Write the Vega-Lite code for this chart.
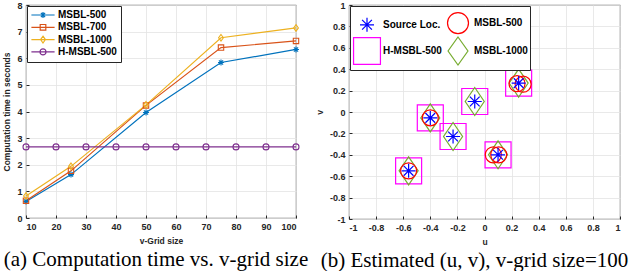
{
  "$schema": "https://vega.github.io/schema/vega-lite/v6.json",
  "background": "white",
  "padding": {"left": 2, "top": 0, "right": 0, "bottom": 0},
  "bounds": "flush",
  "spacing": 53,
  "resolve": {"scale": {"color": "independent", "shape": "independent"}, "legend": {"color": "independent", "shape": "independent"}},
  "config": {
    "font": "Liberation Sans",
    "view": {"stroke": "#262626", "strokeWidth": 0.8},
    "axis": {
      "labelFont": "Liberation Sans", "labelFontSize": 9, "labelFontWeight": "bold", "labelColor": "#262626",
      "titleFont": "Liberation Sans", "titleFontSize": 8.5, "titleFontWeight": "bold", "titleColor": "#262626",
      "gridColor": "#e3e3e3", "gridWidth": 0.8, "domain": false,
      "tickColor": "#262626", "tickSize": -3, "labelPadding": 7, "titlePadding": 5
    },
    "title": {"font": "Liberation Serif", "fontWeight": "normal", "color": "black", "orient": "bottom", "offset": 4, "fontSize": 21}
  },
  "hconcat": [
    {
      "width": 270, "height": 213,
      "title": {"text": "(a) Computation time vs. v-grid size", "dx": -5},
      "data": {"values": [
        {"n": 10, "series": "MSBL-500", "t": 0.62},
        {"n": 25, "series": "MSBL-500", "t": 1.63},
        {"n": 50, "series": "MSBL-500", "t": 3.96},
        {"n": 75, "series": "MSBL-500", "t": 5.84},
        {"n": 100, "series": "MSBL-500", "t": 6.33},
        {"n": 10, "series": "MSBL-700", "t": 0.65},
        {"n": 25, "series": "MSBL-700", "t": 1.77},
        {"n": 50, "series": "MSBL-700", "t": 4.23},
        {"n": 75, "series": "MSBL-700", "t": 6.40},
        {"n": 100, "series": "MSBL-700", "t": 6.65},
        {"n": 10, "series": "MSBL-1000", "t": 0.83},
        {"n": 25, "series": "MSBL-1000", "t": 1.94},
        {"n": 50, "series": "MSBL-1000", "t": 4.25},
        {"n": 75, "series": "MSBL-1000", "t": 6.77},
        {"n": 100, "series": "MSBL-1000", "t": 7.14},
        {"n": 10, "series": "H-MSBL-500", "t": 2.67},
        {"n": 20, "series": "H-MSBL-500", "t": 2.67},
        {"n": 30, "series": "H-MSBL-500", "t": 2.67},
        {"n": 40, "series": "H-MSBL-500", "t": 2.67},
        {"n": 50, "series": "H-MSBL-500", "t": 2.67},
        {"n": 60, "series": "H-MSBL-500", "t": 2.67},
        {"n": 70, "series": "H-MSBL-500", "t": 2.67},
        {"n": 80, "series": "H-MSBL-500", "t": 2.67},
        {"n": 90, "series": "H-MSBL-500", "t": 2.67},
        {"n": 100, "series": "H-MSBL-500", "t": 2.67}
      ]},
      "encoding": {
        "x": {"field": "n", "type": "quantitative", "scale": {"domain": [10, 100], "nice": false}, "axis": {"title": "v-Grid size", "values": [10,20,30,40,50,60,70,80,90,100]}},
        "y": {"field": "t", "type": "quantitative", "scale": {"domain": [0, 8], "nice": false}, "axis": {"title": "Computation time in seconds", "values": [0,1,2,3,4,5,6,7,8]}},
        "color": {"field": "series", "type": "nominal",
          "scale": {"domain": ["MSBL-500", "MSBL-700", "MSBL-1000", "H-MSBL-500"], "range": ["#0072BD", "#D95319", "#EDB120", "#7E2F8E"]},
          "legend": {
            "title": null, "orient": "top-left", "offset": 1, "fillColor": "white", "strokeColor": "#262626",
            "padding": 4, "labelFont": "Liberation Sans", "labelFontWeight": "bold", "labelFontSize": 10, "labelColor": "black",
            "rowPadding": 0.3, "symbolSize": 64, "symbolStrokeWidth": 1.2, "symbolOffset": 7, "labelOffset": 10
          }
        }
      },
      "layer": [
        {"mark": {"type": "line", "strokeWidth": 1.2}},
        {"transform": [{"filter": "datum.series === 'MSBL-500'"}],
         "mark": {"type": "point", "filled": false, "size": 36, "strokeWidth": 1.1, "opacity": 1, "shape": "M0,-1V1M-1,0H1M-0.7,-0.7L0.7,0.7M-0.7,0.7L0.7,-0.7"}},
        {"transform": [{"filter": "datum.series === 'MSBL-700'"}],
         "mark": {"type": "point", "filled": false, "size": 36, "strokeWidth": 1.1, "opacity": 1, "shape": "M-0.9,-0.9H0.9V0.9H-0.9Z"}},
        {"transform": [{"filter": "datum.series === 'MSBL-1000'"}],
         "mark": {"type": "point", "filled": false, "size": 36, "strokeWidth": 1.1, "opacity": 1, "shape": "M0,-1.1L0.8,0L0,1.1L-0.8,0Z"}},
        {"transform": [{"filter": "datum.series === 'H-MSBL-500'"}],
         "mark": {"type": "point", "filled": false, "size": 36, "strokeWidth": 1.1, "opacity": 1, "shape": "circle"}},
        {"transform": [{"filter": "false"}],
         "mark": {"type": "point", "filled": false, "size": 64, "strokeWidth": 1.2, "opacity": 1},
         "encoding": {"shape": {"field": "series", "type": "nominal",
           "scale": {"domain": ["MSBL-500", "MSBL-700", "MSBL-1000", "H-MSBL-500"],
             "range": ["M-2.9,0H2.9M0,-0.75V0.75M-0.75,0H0.75M-0.53,-0.53L0.53,0.53M-0.53,0.53L0.53,-0.53", "M-2.9,0H2.9M-0.7,-0.7H0.7V0.7H-0.7Z", "M-2.9,0H2.9M0,-0.85L0.6,0L0,0.85L-0.6,0Z", "M-2.9,0H2.9M0.75,0A0.75,0.75,0,1,1,-0.75,0A0.75,0.75,0,1,1,0.75,0Z"]},
           "legend": {
            "title": null, "orient": "top-left", "offset": 1, "fillColor": "white", "strokeColor": "#262626",
            "padding": 4, "labelFont": "Liberation Sans", "labelFontWeight": "bold", "labelFontSize": 10, "labelColor": "black",
            "rowPadding": 0.3, "symbolSize": 64, "symbolStrokeWidth": 1.2, "symbolOffset": 7, "labelOffset": 10
           }}}}
      ]
    },
    {
      "width": 271, "height": 214,
      "title": {"text": "(b) Estimated (u, v), v-grid size=100", "dx": -10},
      "data": {"values": [
        {"u": 0.252, "v": 0.27, "series": "Source Loc."},
        {"u": 0.10, "v": -0.40, "series": "Source Loc."},
        {"u": -0.40, "v": -0.055, "series": "Source Loc."},
        {"u": -0.232, "v": -0.229, "series": "Source Loc."},
        {"u": -0.56, "v": -0.55, "series": "Source Loc."},
        {"u": -0.072, "v": 0.098, "series": "Source Loc."},
        {"u": 0.24, "v": 0.265, "series": "MSBL-500"},
        {"u": 0.285, "v": 0.26, "series": "MSBL-500"},
        {"u": 0.065, "v": -0.40, "series": "MSBL-500"},
        {"u": 0.105, "v": -0.40, "series": "MSBL-500"},
        {"u": -0.40, "v": -0.055, "series": "MSBL-500"},
        {"u": -0.56, "v": -0.55, "series": "MSBL-500"},
        {"u": 0.252, "v": 0.27, "series": "H-MSBL-500"},
        {"u": 0.10, "v": -0.40, "series": "H-MSBL-500"},
        {"u": -0.40, "v": -0.055, "series": "H-MSBL-500"},
        {"u": -0.232, "v": -0.229, "series": "H-MSBL-500"},
        {"u": -0.56, "v": -0.55, "series": "H-MSBL-500"},
        {"u": -0.072, "v": 0.098, "series": "H-MSBL-500"},
        {"u": 0.252, "v": 0.27, "series": "MSBL-1000"},
        {"u": 0.10, "v": -0.40, "series": "MSBL-1000"},
        {"u": -0.40, "v": -0.055, "series": "MSBL-1000"},
        {"u": -0.232, "v": -0.229, "series": "MSBL-1000"},
        {"u": -0.56, "v": -0.55, "series": "MSBL-1000"},
        {"u": -0.072, "v": 0.098, "series": "MSBL-1000"}
      ]},
      "encoding": {
        "x": {"field": "u", "type": "quantitative", "scale": {"domain": [-1, 1], "nice": false}, "axis": {"title": "u", "values": [-1,-0.8,-0.6,-0.4,-0.2,0,0.2,0.4,0.6,0.8,1], "labelExpr": "'' + datum.value"}},
        "y": {"field": "v", "type": "quantitative", "scale": {"domain": [-1, 1], "nice": false}, "axis": {"title": "v", "values": [-1,-0.8,-0.6,-0.4,-0.2,0,0.2,0.4,0.6,0.8,1], "labelExpr": "'' + datum.value"}},
        "color": {"field": "series", "type": "nominal",
          "scale": {"domain": ["Source Loc.", "H-MSBL-500", "MSBL-500", "MSBL-1000"], "range": ["#0000FF", "#FF00FF", "#FF0000", "#77AC30"]},
          "legend": {
            "title": null, "orient": "top-left", "offset": 1, "columns": 2, "fillColor": "white", "strokeColor": "#262626",
            "padding": 2, "labelFont": "Liberation Sans", "labelFontWeight": "bold", "labelFontSize": 10, "labelColor": "black",
            "rowPadding": -4, "columnPadding": 1, "symbolSize": 784, "symbolStrokeWidth": 1.2, "symbolOffset": 0, "labelOffset": 1
          }
        }
      },
      "layer": [
        {"transform": [{"filter": "datum.series === 'H-MSBL-500'"}],
         "mark": {"type": "point", "filled": false, "shape": "square", "size": 676, "strokeWidth": 1.2, "opacity": 1}},
        {"transform": [{"filter": "datum.series === 'MSBL-1000'"}],
         "mark": {"type": "point", "filled": false, "shape": "M0,-1L0.68,0L0,1L-0.68,0Z", "size": 784, "strokeWidth": 1.2, "opacity": 1}},
        {"transform": [{"filter": "datum.series === 'MSBL-500'"}],
         "mark": {"type": "point", "filled": false, "shape": "circle", "size": 256, "strokeWidth": 1.2, "opacity": 1}},
        {"transform": [{"filter": "datum.series === 'Source Loc.'"}],
         "mark": {"type": "point", "filled": false, "shape": "M0,-1V1M-1,0H1M-0.7,-0.7L0.7,0.7M-0.7,0.7L0.7,-0.7", "size": 196, "strokeWidth": 1.2, "opacity": 1}},
        {"transform": [{"filter": "false"}],
         "mark": {"type": "point", "filled": false, "size": 784, "strokeWidth": 1.2, "opacity": 1},
         "encoding": {"shape": {"field": "series", "type": "nominal",
           "scale": {"domain": ["Source Loc.", "H-MSBL-500", "MSBL-500", "MSBL-1000"],
             "range": ["M0,-0.5V0.5M-0.5,0H0.5M-0.35,-0.35L0.35,0.35M-0.35,0.35L0.35,-0.35", "M-0.96,-0.96H0.96V0.96H-0.96Z", "M0.75,0A0.75,0.75,0,1,1,-0.75,0A0.75,0.75,0,1,1,0.75,0Z", "M0,-1L0.71,0L0,1L-0.71,0Z"]},
           "legend": {
            "title": null, "orient": "top-left", "offset": 1, "columns": 2, "fillColor": "white", "strokeColor": "#262626",
            "padding": 2, "labelFont": "Liberation Sans", "labelFontWeight": "bold", "labelFontSize": 10, "labelColor": "black",
            "rowPadding": -4, "columnPadding": 1, "symbolSize": 784, "symbolStrokeWidth": 1.2, "symbolOffset": 0, "labelOffset": 1
           }}}}
      ]
    }
  ]
}
